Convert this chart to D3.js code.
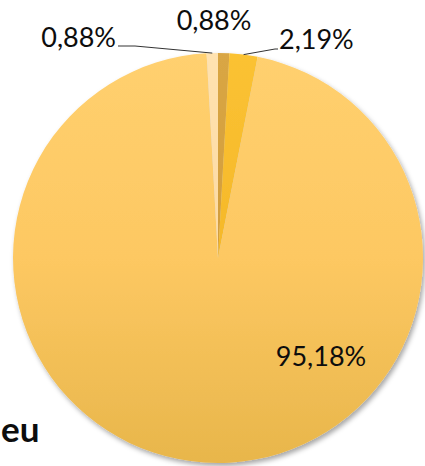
<!DOCTYPE html>
<html>
<head>
<meta charset="utf-8">
<script src="https://cdn.jsdelivr.net/npm/d3@7"></script>
<style>
  html, body { margin: 0; padding: 0; background: #fff; }
  svg { display: block; }
  .lbl { font-family: Lato, "Open Sans", sans-serif; font-size: 27px; fill: #0d0d0d; }
  .title { font-family: Lato, "Open Sans", sans-serif; font-size: 35px; font-weight: bold; fill: #0d0d0d; }
</style>
</head>
<body>
<svg width="425" height="466"></svg>
<script>
// slices, clockwise from 12 o'clock
const labels = ["0,88%", "2,19%", "95,18%", "0,88%"];
const values = [0.88, 2.19, 95.18, 0.88];
const topColors = ["#d9a644", "#fbc232", "#ffd06f", "#ffe2b0"];
const midColors = ["#d29d3c", "#f5b82a", "#fdc862", "#fcdaa2"];
const bottomColors = ["#c39030", "#eaa812", "#e8b64b", "#f2cf90"];
const titleText = "eu";

const svg = d3.select("svg"),
  cx = 218,
  cy = 258,
  r = 205;

const defs = svg.append("defs");

const shadow = defs.append("filter")
  .attr("id", "shadow")
  .attr("x", "-10%").attr("y", "-10%")
  .attr("width", "120%").attr("height", "120%");
shadow.append("feDropShadow")
  .attr("dx", 2).attr("dy", 3)
  .attr("stdDeviation", 2.5)
  .attr("flood-color", "#000")
  .attr("flood-opacity", 0.35);

values.forEach((v, i) => {
  const g = defs.append("linearGradient")
    .attr("id", "grad" + i)
    .attr("gradientUnits", "userSpaceOnUse")
    .attr("x1", 0).attr("y1", -r)
    .attr("x2", 0).attr("y2", r);
  g.append("stop").attr("offset", "0%").attr("stop-color", topColors[i]);
  g.append("stop").attr("offset", "50%").attr("stop-color", midColors[i]);
  g.append("stop").attr("offset", "100%").attr("stop-color", bottomColors[i]);
});

const pie = d3.pie().sort(null).value(d => d);
const arcs = pie(values);
const arc = d3.arc().innerRadius(0).outerRadius(r);

const chart = svg.append("g").attr("transform", `translate(${cx},${cy})`);

chart.append("g")
  .attr("filter", "url(#shadow)")
  .selectAll("path")
  .data(arcs)
  .enter()
  .append("path")
  .attr("d", arc)
  .attr("fill", (d, i) => `url(#grad${i})`);

// label placement (Excel "best fit" style), relative to the pie centre
const labelLayout = [
  { dx: -4, dy: -228, anchor: "middle", leader: null },
  { dx: 61, dy: -209, anchor: "start", leader: [[57, -209], [60, -209]] },
  { dx: 103, dy: 108, anchor: "middle", leader: null },
  { dx: -102, dy: -211, anchor: "end", leader: [[-83, -212], [-100, -212]] }
];

const pt = (a, rad) => [rad * Math.sin(a), -rad * Math.cos(a)];

arcs.forEach((d, i) => {
  const L = labelLayout[i];
  if (L.leader) {
    const mid = (d.startAngle + d.endAngle) / 2;
    const pts = [pt(mid, r)].concat(L.leader);
    chart.append("path")
      .attr("d", d3.line()(pts))
      .attr("fill", "none")
      .attr("stroke", "#333")
      .attr("stroke-width", 1);
  }
  chart.append("text")
    .attr("class", "lbl")
    .attr("x", L.dx)
    .attr("y", L.dy)
    .attr("text-anchor", L.anchor)
    .text(labels[i]);
});

svg.append("text")
  .attr("class", "title")
  .attr("x", 1)
  .attr("y", 442)
  .attr("text-anchor", "start")
  .text(titleText);
</script>
</body>
</html>
